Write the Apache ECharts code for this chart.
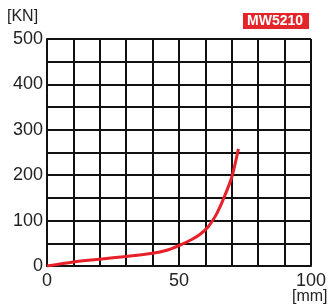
<html>
<head>
    <meta charset="utf-8" />
    <script src="https://cdn.jsdelivr.net/npm/echarts@6/dist/echarts.min.js"></script>
    <style>
        body { margin: 0; background: #fff; }
        #chart { width: 331px; height: 307px; }
    </style>
</head>
<body>
    <div id="chart"></div>
    <script type="text/javascript">
        // stroke in mm vs load in KN
        var strokeMm = [0, 10, 20, 30, 40, 45, 50, 55, 58, 61, 64, 67, 70, 72.5];
        var loadKn = [0, 9, 15, 21, 28, 34, 45, 59, 70, 86, 112, 150, 196, 258];
        var xTickLabels = [0, 50, 100];
        var yTickLabels = [0, 100, 200, 300, 400, 500];

        var points = strokeMm.map(function(x, i) { return [x, loadKn[i]]; });

        var chart = echarts.init(document.getElementById('chart'));
        var option = {
            animation: false,
            grid: { left: 47, right: 20, top: 39, bottom: 41 },
            xAxis: {
                type: 'value',
                min: 0,
                max: 100,
                interval: 10,
                axisLine: { lineStyle: { color: '#111', width: 2 } },
                axisTick: { show: false },
                splitLine: { show: true, lineStyle: { color: '#111', width: 2 } },
                axisLabel: {
                    color: '#222',
                    fontSize: 18,
                    fontFamily: 'Liberation Sans',
                    margin: 6,
                    formatter: function(v) {
                        return xTickLabels.indexOf(v) >= 0 ? String(v) : '';
                    }
                }
            },
            yAxis: {
                type: 'value',
                min: 0,
                max: 500,
                interval: 50,
                axisLine: { show: true, lineStyle: { color: '#111', width: 2 } },
                axisTick: { show: false },
                splitLine: { show: true, lineStyle: { color: '#111', width: 2 } },
                axisLabel: {
                    color: '#222',
                    fontSize: 18,
                    fontFamily: 'Liberation Sans',
                    margin: 4,
                    formatter: function(v) {
                        return yTickLabels.indexOf(v) >= 0 ? String(v) : '';
                    }
                }
            },
            graphic: [
                { type: 'text', left: 7, top: 9,
                  style: { text: '[KN]', fill: '#222', fontSize: 16, fontFamily: 'Liberation Sans' } },
                { type: 'text', left: 292, top: 289,
                  style: { text: '[mm]', fill: '#222', fontSize: 16, fontFamily: 'Liberation Sans' } },
                { type: 'rect', left: 243, top: 13, shape: { width: 66, height: 16 },
                  style: { fill: '#e3262b' } },
                { type: 'text', left: 247, top: 14,
                  style: { text: 'MW5210', fill: '#fff', fontSize: 14, fontWeight: 'bold', fontFamily: 'Liberation Sans' } }
            ],
            series: [{
                type: 'line',
                data: points,
                smooth: 0.3,
                showSymbol: false,
                lineStyle: { color: '#e8202a', width: 3 }
            }]
        };
        chart.setOption(option);
    </script>
</body>
</html>
